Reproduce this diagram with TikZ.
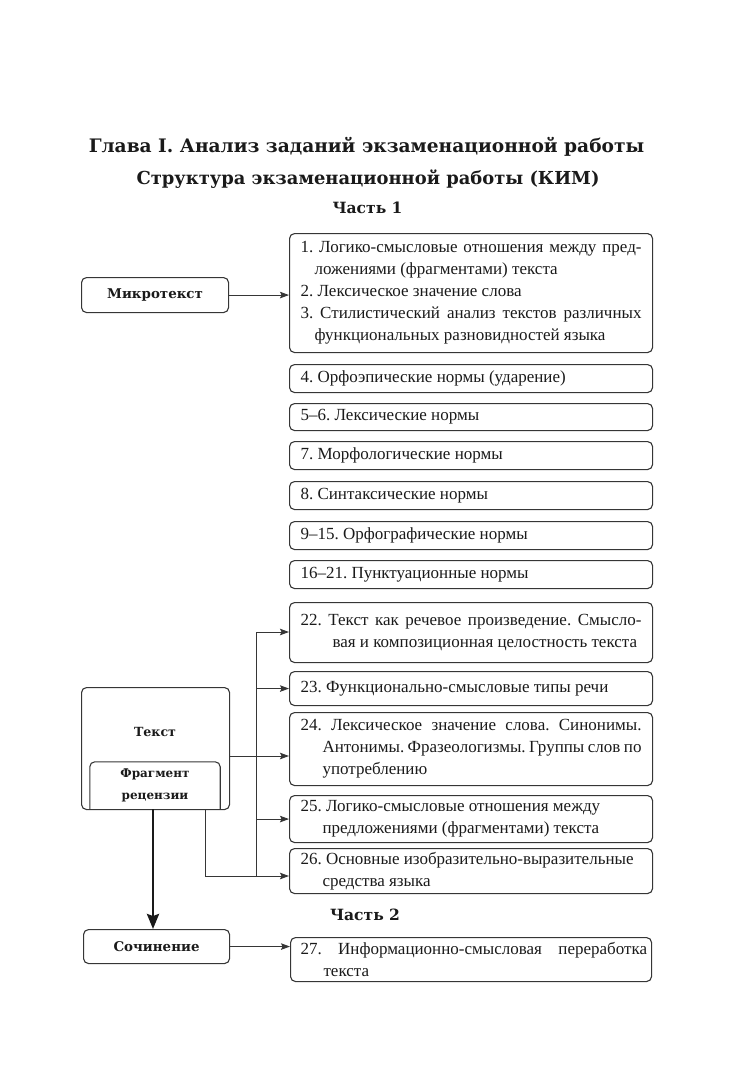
\documentclass[tikz,border=0pt]{standalone}
\usepackage{fontspec}
\setmainfont{Liberation Serif}
\newfontfamily\headfont{DejaVu Serif}
\usetikzlibrary{arrows.meta,calc}
\definecolor{ink}{HTML}{1A1A1A}
\definecolor{linec}{HTML}{363636}
% numbered item with hanging indent (#1 hang, #2 number)
\newcommand{\hnum}[2]{\hangindent=#1\hangafter=1 #2\ }
\begin{document}
\begin{tikzpicture}[x=1pt,y=-1pt,
  every node/.style={text=ink},
  rbox/.style={draw=linec, line width=1.1pt, rounded corners=5pt, anchor=north west,
    text width=341pt, inner xsep=11pt, inner ysep=0pt, minimum width=363pt,
    align=justify, font=\fontsize{17}{22}\selectfont\frenchspacing},
  lbox/.style={draw=linec, line width=1.1pt, rounded corners=5pt, anchor=north west,
    inner sep=0pt, font=\headfont\bfseries\fontsize{13.4}{22}\selectfont},
  conn/.style={draw=linec, line width=0.9pt},
  arr/.style={conn, -{Stealth[length=9pt,width=6.5pt,inset=1.5pt]}},
  bigarr/.style={draw=ink, line width=2.6pt, -{Stealth[length=15pt,width=12pt,inset=2pt]}},
  title/.style={font=\headfont\bfseries, anchor=base}
]
\useasboundingbox (0,0) rectangle (735,1080);
\hyphenpenalty=10000 \exhyphenpenalty=10000
\pretolerance=-1 \tolerance=9000

% titles
\node[title, font=\headfont\bfseries\fontsize{18.6}{22}\selectfont] (t1) at (366.5,152) {Глава I. Анализ заданий экзаменационной работы};
\node[title, font=\headfont\bfseries\fontsize{17.9}{22}\selectfont] (t2) at (368,184) {Структура экзаменационной работы (КИМ)};
\node[title, font=\headfont\bfseries\fontsize{15.5}{22}\selectfont] (p1) at (367.5,213) {Часть 1};
\node[title, font=\headfont\bfseries\fontsize{15.5}{22}\selectfont] (p2) at (365,920) {Часть 2};

% right boxes
\node[rbox, minimum height=119pt] (b1) at (289,233) {%
\hnum{14pt}{1.}Логико-смысловые отношения между пред-\linebreak ложениями (фрагментами) текста\par
\hnum{14pt}{2.}Лексическое значение слова\par
\hnum{14pt}{3.}Стилистический анализ текстов различных\linebreak функциональных разновидностей языка\par};
\node[rbox, minimum height=28pt] (b4) at (289,364) {4. Орфоэпические нормы (ударение)\par};
\node[rbox, minimum height=27pt] (b5) at (289,403) {5–6. Лексические нормы\par};
\node[rbox, minimum height=28pt] (b7) at (289,441) {7. Морфологические нормы\par};
\node[rbox, minimum height=28pt] (b8) at (289,481) {8. Синтаксические нормы\par};
\node[rbox, minimum height=28pt] (b9) at (289,521) {9–15. Орфографические нормы\par};
\node[rbox, minimum height=28pt] (b16) at (289,560) {16–21. Пунктуационные нормы\par};
\node[rbox, minimum height=60pt] (b22) at (289,602) {\hnum{25pt}{22.}Текст как речевое произведение. Смысло-\linebreak\hspace*{7pt}вая и композиционная целостность текста\par};
\node[rbox, minimum height=34pt] (b23) at (289,671) {23. Функционально-смысловые типы речи\par};
\node[rbox, minimum height=73pt] (b24) at (289,712) {\hnum{22pt}{24.}Лексическое значение слова. Синонимы.\linebreak Антонимы. Фразеологизмы. Группы слов по\linebreak употреблению\par};
\node[rbox, minimum height=47pt] (b25) at (289,795) {\hnum{22pt}{25.}Логико-смысловые отношения между\\ предложениями (фрагментами) текста\par};
\node[rbox, minimum height=45pt] (b26) at (289,848) {\hnum{22pt}{26.}Основные изобразительно-выразительные\\ средства языка\par};
\node[rbox, minimum height=44pt, minimum width=361pt, text width=352pt, inner xsep=4.5pt] (b27) at (290,937) {\hnum{28.5pt}{\hspace*{5.5pt}27.}Информационно-смысловая переработка\linebreak текста\par};

% left boxes
\node[lbox, minimum width=147pt, minimum height=35pt] (mikro) at (81,277) {Микротекст};
\node[lbox, minimum width=148pt, minimum height=122pt] (tekst) at (81,687) {};
\node[font=\headfont\bfseries\fontsize{12.6}{22}\selectfont] (tlab) at (155,732) {Текст};
\node[inner sep=0pt, minimum width=130pt, minimum height=47pt, align=center,
      font=\headfont\bfseries\fontsize{12}{22}\selectfont] (frag) at (155,785.5) {Фрагмент\\рецензии};
\draw[draw=linec, line width=1.1pt, rounded corners=5pt]
  (frag.south west) -- (frag.north west) -- (frag.north east) -- (frag.south east);
\node[lbox, minimum width=146pt, minimum height=34pt] (soch) at (83,929) {Сочинение};

% connectors
\draw[arr] (mikro.east) -- (mikro.east -| b1.west);
\coordinate (bt) at (256,632);
\coordinate (bb) at (256,876);
\coordinate (j24) at (256,756);
\coordinate (f1) at ($(frag.south east)+(-15,0)$);
\draw[conn] (bt) -- (bb);
\draw[arr] (bt) -- (bt -| b22.west);
\draw[arr] (bt |- b23.west) -- (b23.west);
\draw[arr] (tekst.east |- j24) -- (b24.west |- j24);
\draw[arr] (bt |- b25.west) -- (b25.west);
\draw[arr] (f1) |- (b26.west |- bb);
\draw[bigarr] (frag.south -| 153,0) -- (soch.north -| 153,0);
\draw[arr] (soch.east) -- (soch.east -| b27.west);
\end{tikzpicture}
\end{document}
